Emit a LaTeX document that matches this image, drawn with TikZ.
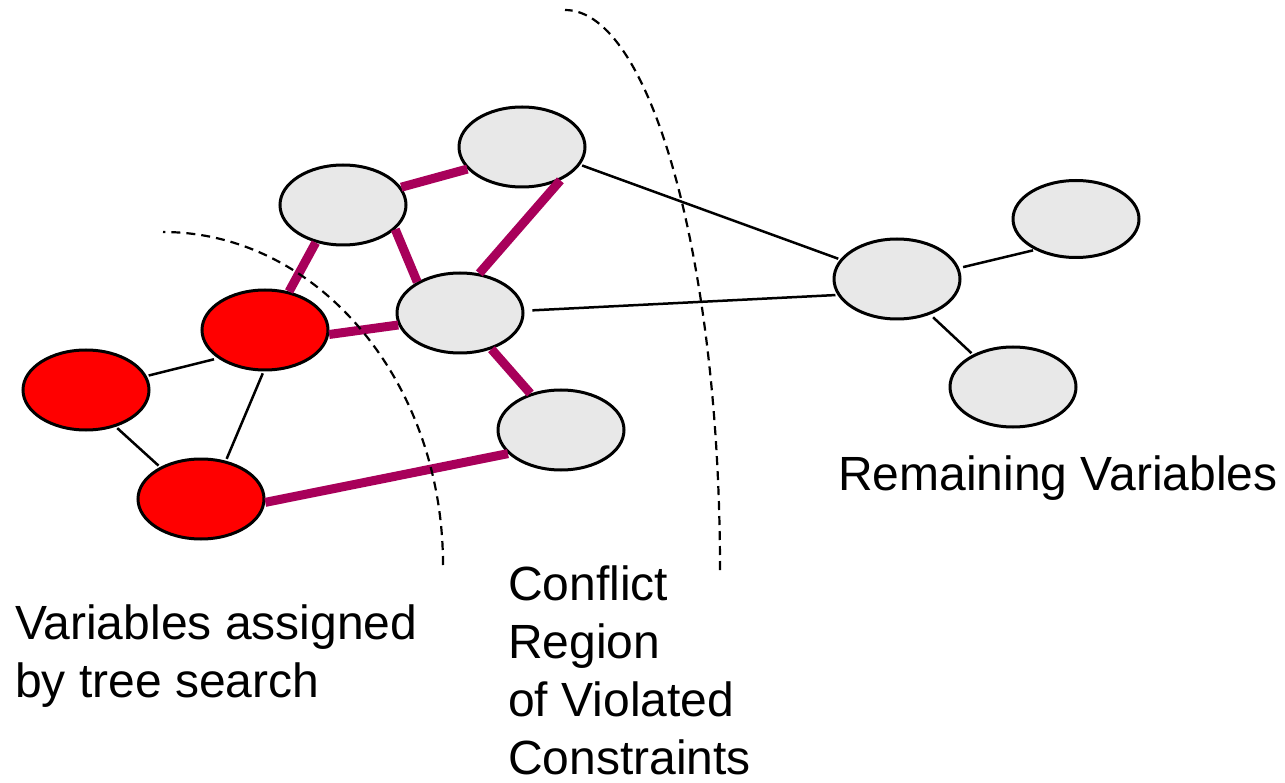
\documentclass[tikz,border=0pt]{standalone}
\usepackage{fontspec}
\setmainfont{Liberation Sans}
\usetikzlibrary{shapes.geometric}
\definecolor{conflictpurple}{HTML}{A8005A}
\definecolor{vargray}{HTML}{E8E8E8}
\definecolor{assignedred}{HTML}{FF0000}
\begin{document}
\begin{tikzpicture}[x=1pt,y=-1pt,
  var/.style={ellipse, draw=black, line width=3pt, minimum width=126pt, minimum height=80pt, inner sep=0pt, fill=vargray},
  assigned/.style={var, fill=assignedred},
  thin edge/.style={draw=black, line width=2.5pt},
  conflict edge/.style={draw=conflictpurple, line width=9pt},
  boundary/.style={draw=black, line width=2.2pt, dash pattern=on 9pt off 6pt},
  label/.style={anchor=base west, inner sep=0pt, font=\fontsize{48}{58}\selectfont}]
\useasboundingbox (0,0) rectangle (1285,783);
% nodes
\node[var] (A) at (522,147) {};
\node[var] (B) at (343,205) {};
\node[var] (C) at (460,313) {};
\node[var] (D) at (561,430) {};
\node[assigned] (R1) at (265,330) {};
\node[assigned] (R2) at (86,390) {};
\node[assigned] (R3) at (201,499) {};
\node[var] (E) at (897,279) {};
\node[var, minimum height=77pt] (F) at (1076,219) {};
\node[var] (G) at (1013,387) {};
% conflict edges
\draw[conflict edge] (B.17) -- (A.202);
\draw[conflict edge] (A.319) -- (C.64);
\draw[conflict edge] (B.335) -- (C.144);
\draw[conflict edge] (B.234) -- (R1.58);
\draw[conflict edge] (R1.356) -- (C.191);
\draw[conflict edge] (C.311) -- (D.130);
\draw[conflict edge] (R3.357) -- (D.204);
% thin edges
\draw[thin edge, shorten <=2pt, shorten >=2pt] (A.343) -- (E.161);
\draw[thin edge, shorten <=8pt, shorten >=2pt] (C.2) -- (E.195);
\draw[thin edge, shorten <=4pt, shorten >=2pt] (E.10) -- (F.217);
\draw[thin edge, shorten <=4pt, shorten >=2pt] (E.313) -- (G.141);
\draw[thin edge, shorten <=2pt, shorten >=4pt] (R2.13) -- (R1.211);
\draw[thin edge, shorten <=2pt, shorten >=2pt] (R2.309) -- (R3.142);
\draw[thin edge, shorten <=2pt, shorten >=2pt] (R1.268) -- (R3.57);
% dashed region boundaries
\draw[boundary] (443,565) arc[start angle=0, end angle=-90, x radius=280, y radius=333];
\draw[boundary] (720,570) arc[start angle=0, end angle=-90, x radius=155, y radius=560];
% labels
\node[label] (remaining) at (838,490) {Remaining Variables};
\node[label, align=left] (conflictlabel) at (508,774) {Conflict\\Region\\of Violated\\Constraints};
\node[label, align=left] (assignedlabel) at (15,697) {Variables assigned\\by tree search};
\end{tikzpicture}
\end{document}
